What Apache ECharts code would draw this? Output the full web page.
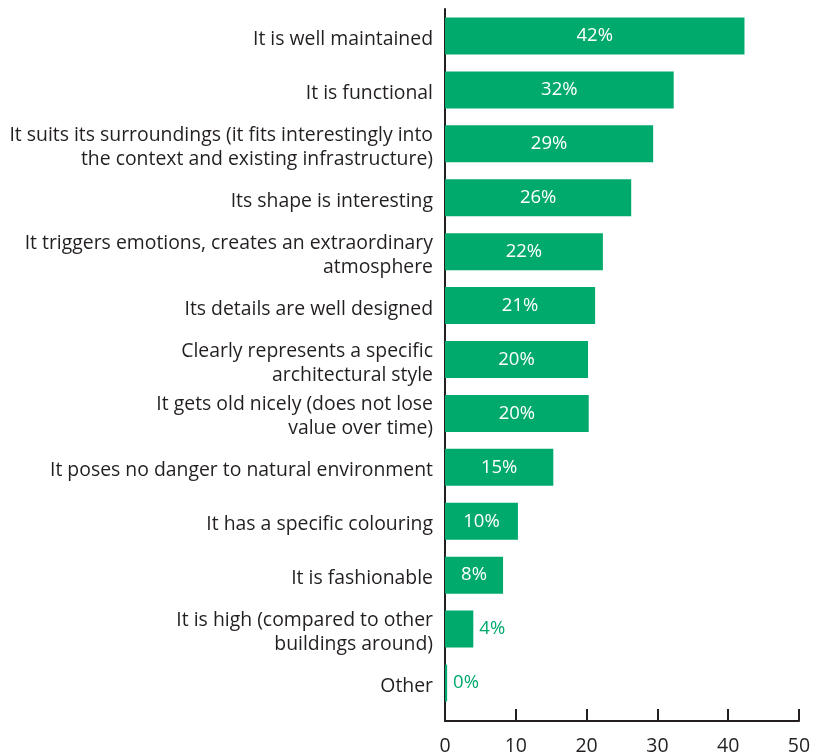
<!DOCTYPE html>
<html>
<head>
<meta charset="utf-8">
<script src="https://cdn.jsdelivr.net/npm/echarts@6/dist/echarts.min.js"></script>
<style>
  html, body { margin: 0; padding: 0; background: #fff; }
  #chart { width: 818px; height: 753px; }
</style>
</head>
<body>
<div id="chart"></div>
<script>
// categories, top to bottom
const categories = [
  'It is well maintained',
  'It is functional',
  'It suits its surroundings (it fits interestingly into\nthe context and existing infrastructure)',
  'Its shape is interesting',
  'It triggers emotions, creates an extraordinary\natmosphere',
  'Its details are well designed',
  'Clearly represents a specific\narchitectural style',
  'It gets old nicely (does not lose\nvalue over time)',
  'It poses no danger to natural environment',
  'It has a specific colouring',
  'It is fashionable',
  'It is high (compared to other\nbuildings around)',
  'Other'
]
// bar lengths
const values = [42.3, 32.3, 29.4, 26.3, 22.3, 21.2, 20.2, 20.3, 15.3, 10.3, 8.2, 4.0, 0.3]
// printed labels
const labels = ['42%', '32%', '29%', '26%', '22%', '21%', '20%', '20%', '15%', '10%', '8%', '4%', '0%']
const xTicks = [0, 10, 20, 30, 40, 50]

const green = '#00aa6c'
const dark = '#231f20'
const font = '"Open Sans"'

const chart = echarts.init(document.getElementById('chart'))

// small bars get their label outside in green
const seriesData = values.map((v, i) => {
  const outside = v < 6
  return {
    value: v,
    label: outside
      ? { position: 'right', distance: 6, color: green }
      : { position: 'inside', color: '#fff' }
  }
})

chart.setOption({
  animation: false,
  grid: [
    { left: 445, right: 19, top: 9, height: 701, outerBoundsMode: 'none' },
    { left: 445, right: 19, top: 9, height: 712, outerBoundsMode: 'none' }
  ],
  xAxis: [
    {
      type: 'value',
      gridIndex: 0,
      min: xTicks[0],
      max: xTicks[xTicks.length - 1],
      interval: 10,
      offset: 11,
      axisLine: { show: true, lineStyle: { color: dark, width: 2 } },
      axisTick: { show: true, inside: true, length: 12, lineStyle: { color: dark, width: 2 } },
      axisLabel: { color: dark, fontSize: 19.5, fontFamily: font, margin: 15 },
      splitLine: { show: false }
    },
    {
      type: 'value',
      gridIndex: 1,
      show: false
    }
  ],
  yAxis: [
    {
      type: 'category',
      gridIndex: 0,
      inverse: true,
      data: categories,
      axisLine: { show: false },
      axisTick: { show: false },
      axisLabel: {
        color: dark,
        fontSize: 19.4,
        fontFamily: font,
        margin: 12,
        align: 'right',
        // push the text a little below the bar centre, as in the original
        formatter: v => v.split('\n').map(s => '{t|' + s + '}').join('\n'),
        rich: {
          t: {
            color: dark,
            fontSize: 19.4,
            fontFamily: font,
            lineHeight: 24,
            padding: [7, 0, 0, 0]
          }
        }
      }
    },
    {
      type: 'value',
      gridIndex: 1,
      axisLine: { show: true, lineStyle: { color: dark, width: 2 } },
      axisTick: { show: false },
      axisLabel: { show: false },
      splitLine: { show: false }
    }
  ],
  series: [
    {
      type: 'bar',
      xAxisIndex: 0,
      yAxisIndex: 0,
      data: seriesData,
      barWidth: 37,
      itemStyle: { color: green },
      label: {
        show: true,
        fontSize: 18.5,
        fontFamily: font,
        formatter: p => labels[p.dataIndex]
      }
    }
  ]
})
</script>
</body>
</html>
